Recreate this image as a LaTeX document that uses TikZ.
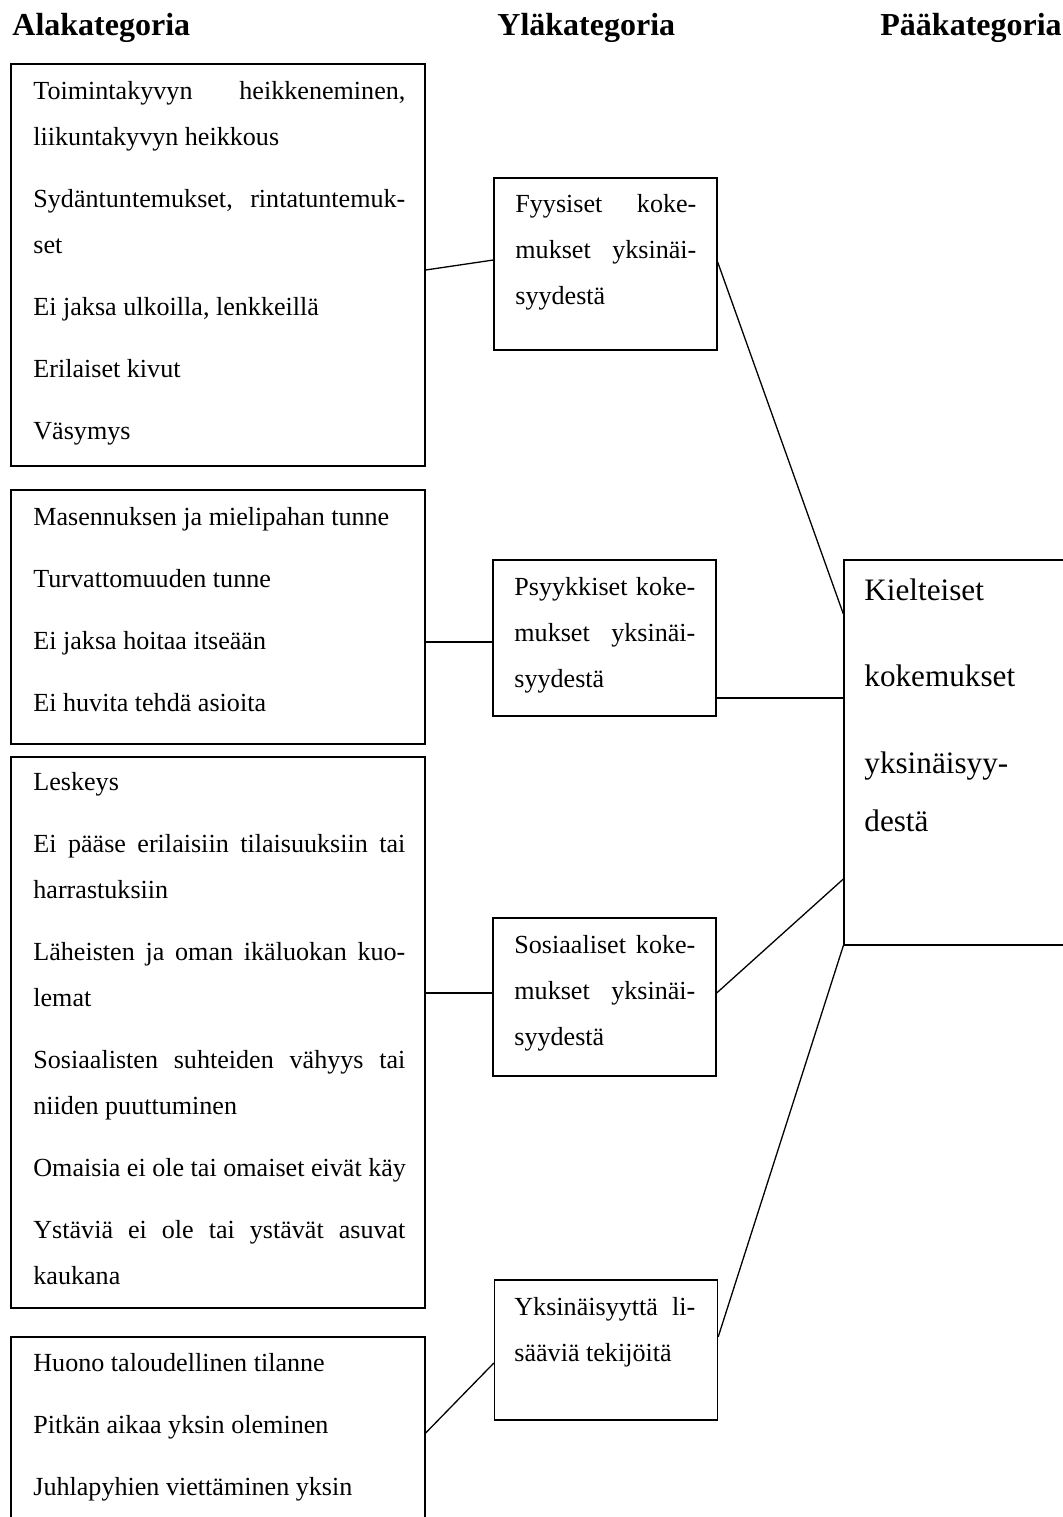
\documentclass[tikz,border=0pt]{standalone}
\usepackage{fontspec}
\setmainfont{Liberation Serif}
\usetikzlibrary{positioning}
\newcommand{\jl}[2][186pt]{\makebox[#1][s]{#2}}
\begin{document}
\begin{tikzpicture}[x=0.5pt, y=-0.5pt,
    box/.style={draw, line width=0.65pt, inner sep=0pt},
    abox/.style={box, minimum width=207pt},
    bbox/.style={box, minimum width=111.5pt},
    txt/.style={anchor=base west, inner sep=0pt, text width=200pt, font=\fontsize{13.05}{23}\selectfont,
        execute at begin node={\spaceskip=0pt\xspaceskip=0pt\relax}},
    head/.style={anchor=base west, inner sep=0pt, font=\fontsize{16}{19}\selectfont\bfseries},
    link/.style={line width=0.65pt}]
    \useasboundingbox (0, 0) rectangle (1062, 1517);
    \node[head] (hala) at (12, 35) {Alakategoria};
    \node[head] (hyla) at (497, 35) {Yläkategoria};
    \node[head] (hpaa) at (880, 35) {Pääkategoria};
    \node[abox, minimum height=201pt] (a1) at (218, 265) {};
    \node[abox, minimum height=127pt] (a2) at (218, 617) {};
    \node[abox, minimum height=275.5pt] (a3) at (218, 1032.5) {};
    \node[abox, minimum height=111.5pt] (a4) at (218, 1448.5) {};
    \node[bbox, minimum height=86pt] (b1) at (605.5, 264) {};
    \node[bbox, minimum height=78pt] (b2) at (604.5, 638) {};
    \node[bbox, minimum height=79pt] (b3) at (604.5, 997) {};
    \node[bbox, minimum height=70pt] (b4) at (606, 1350) {};
    \node[box, minimum width=128pt, minimum height=192.5pt] (c) at (972, 752.5) {};
    \node[txt] (a1t) at (33, 99) {\jl{Toimintakyvyn heikkeneminen,}\\ liikuntakyvyn heikkous\\[8pt]
        \jl{Sydäntuntemukset, rintatuntemuk-}\\ set\\[8pt]
        Ei jaksa ulkoilla, lenkkeillä\\[8pt] Erilaiset kivut\\[8pt] Väsymys};
    \node[txt] (a2t) at (33, 525) {Masennuksen ja mielipahan tunne\\[8pt] Turvattomuuden tunne\\[8pt]
        Ei jaksa hoitaa itseään\\[8pt] Ei huvita tehdä asioita};
    \node[txt] (a3t) at (33, 790) {Leskeys\\[8pt]
        \jl{Ei pääse erilaisiin tilaisuuksiin tai}\\ harrastuksiin\\[8pt]
        \jl{Läheisten ja oman ikäluokan kuo-}\\ lemat\\[8pt]
        \jl{Sosiaalisten suhteiden vähyys tai}\\ niiden puuttuminen\\[8pt]
        Omaisia ei ole tai omaiset eivät käy\\[8pt]
        \jl{Ystäviä ei ole tai ystävät asuvat}\\ kaukana};
    \node[txt] (a4t) at (33, 1371) {Huono taloudellinen tilanne\\[8pt] Pitkän aikaa yksin oleminen\\[8pt]
        Juhlapyhien viettäminen yksin};
    \node[txt] (b1t) at (515, 212) {\jl[90.5pt]{Fyysiset koke-}\\ \jl[90.5pt]{mukset yksinäi-}\\ syydestä};
    \node[txt] (b2t) at (514, 595) {\jl[90.5pt]{Psyykkiset koke-}\\ \jl[90.5pt]{mukset yksinäi-}\\ syydestä};
    \node[txt] (b3t) at (514, 953) {\jl[90.5pt]{Sosiaaliset koke-}\\ \jl[90.5pt]{mukset yksinäi-}\\ syydestä};
    \node[txt] (b4t) at (514, 1315) {\jl[90.5pt]{Yksinäisyyttä li-}\\ sääviä tekijöitä};
    \node[txt, font=\fontsize{15.6}{29}\selectfont] (ct) at (864, 600) {Kielteiset\\[14pt] kokemukset\\[14.5pt]
        yksinäisyy-\\ destä};
    \draw[link] ([yshift=-2.5pt]a1.east) -- ([yshift=2pt]b1.west);
    \draw[link] ([yshift=1pt]b1.east) -- ([yshift=69.25pt]c.west);
    \draw[link] ([yshift=-2pt]b2.west) -- ([yshift=-2pt]b2.west -| a2.east);
    \draw[link] ([yshift=-30pt]b2.east) -- ([yshift=-30pt]b2.east -| c.west);
    \draw[link] ([yshift=2pt]b3.west) -- ([yshift=2pt]b3.west -| a3.east);
    \draw[link] ([yshift=2pt]b3.east) -- ([yshift=-63.25pt]c.west);
    \draw[link] ([yshift=7.75pt]a4.east) -- ([yshift=-6.5pt]b4.west);
    \draw[link] ([yshift=6.5pt]b4.east) -- (c.south west);
\end{tikzpicture}
\end{document}
